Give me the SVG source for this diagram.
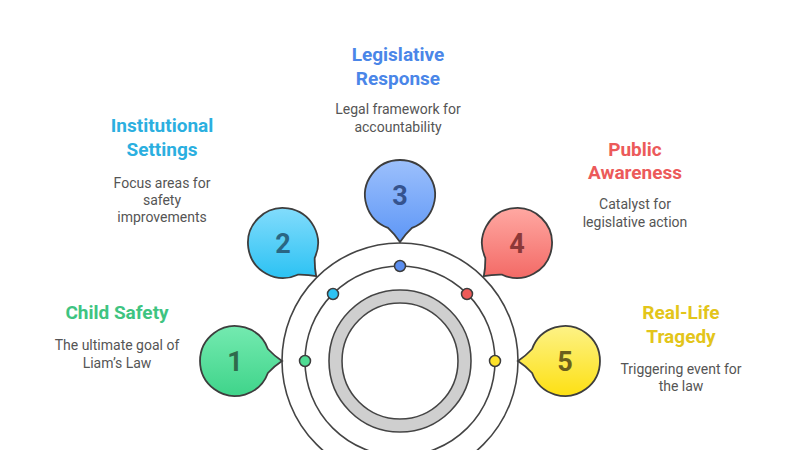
<svg xmlns="http://www.w3.org/2000/svg" width="800" height="450" viewBox="0 0 800 450">
<style>
.t{font-family:Roboto,"Liberation Sans",sans-serif;font-weight:bold;font-size:19px;text-anchor:middle}
.d{font-family:Roboto,"Liberation Sans",sans-serif;font-size:14px;fill:#555;text-anchor:middle}
.n{font-family:Roboto,"Liberation Sans",sans-serif;font-weight:bold;font-size:27px;text-anchor:middle}
.ring{fill:none;stroke:#444;stroke-width:1.6}
.b{stroke:#3d3d3d;stroke-width:1.8}
.dot{stroke:#3d3d3d;stroke-width:1.5}
</style>
<defs>
<linearGradient id="g1" x1="0" y1="0" x2="0" y2="1"><stop offset="0" stop-color="#74eab0"/><stop offset="1" stop-color="#3fd48a"/></linearGradient>
<linearGradient id="g2" x1="0" y1="0" x2="0" y2="1"><stop offset="0" stop-color="#82dcfc"/><stop offset="1" stop-color="#2cc2f3"/></linearGradient>
<linearGradient id="g3" x1="0" y1="0" x2="0" y2="1"><stop offset="0" stop-color="#9cc0fc"/><stop offset="1" stop-color="#5e97f6"/></linearGradient>
<linearGradient id="g4" x1="0" y1="0" x2="0" y2="1"><stop offset="0" stop-color="#ffa8a2"/><stop offset="1" stop-color="#f36a66"/></linearGradient>
<linearGradient id="g5" x1="0" y1="0" x2="0" y2="1"><stop offset="0" stop-color="#fdf286"/><stop offset="1" stop-color="#fde013"/></linearGradient>
</defs>
<rect width="800" height="450" fill="#fff"/>
<g id="connectors">
<circle class="ring" cx="400" cy="361" r="118" fill="#fff"/>
<circle class="ring" cx="400" cy="361" r="95"/>
<circle cx="400" cy="361" r="64.5" fill="none" stroke="#cfcfcf" stroke-width="12"/>
<circle class="ring" cx="400" cy="361" r="71"/>
<circle class="ring" cx="400" cy="361" r="58"/>
<circle class="dot" cx="305" cy="361" r="5.5" fill="#4fdc93"/>
<circle class="dot" cx="333" cy="294" r="5.5" fill="#2cc2f3"/>
<circle class="dot" cx="400" cy="266" r="5.5" fill="#5b8ef0"/>
<circle class="dot" cx="467" cy="294" r="5.5" fill="#ee5a58"/>
<circle class="dot" cx="495" cy="361" r="5.5" fill="#fde22a"/>
</g>
<g id="node1">
<path class="b" fill="url(#g1)" d="M267.9,349 A35,35 0 1 0 267.9,373 Q275,365.5 282,361 Q275,356.5 267.9,349 Z"/>
<text class="n" x="235" y="370.5" fill="#2f6a4c">1</text>
<text class="t" x="117" y="319" fill="#3ec481">Child Safety</text>
<text class="d" x="117" y="350">The ultimate goal of</text>
<text class="d" x="117" y="368">Liam’s Law</text>
</g>
<g id="node2">
<path class="b" fill="url(#g2)" d="M314.7,257.8 A35,35 0 1 0 297.8,274.7 Q308.1,274.5 316.2,276.2 Q314.5,268.1 314.7,257.8 Z"/>
<text class="n" x="283" y="252.5" fill="#2a6683">2</text>
<text class="t" x="162" y="132" fill="#2bafe0">Institutional</text>
<text class="t" x="162" y="156" fill="#2bafe0">Settings</text>
<text class="d" x="162" y="188">Focus areas for</text>
<text class="d" x="162" y="205">safety</text>
<text class="d" x="162" y="222">improvements</text>
</g>
<g id="node3">
<path class="b" fill="url(#g3)" d="M412,227.9 A35,35 0 1 0 388,227.9 Q395.5,235 400,242 Q404.5,235 412,227.9 Z"/>
<text class="n" x="400" y="204.5" fill="#35538e">3</text>
<text class="t" x="398" y="61" fill="#4a86e8">Legislative</text>
<text class="t" x="398" y="85" fill="#4a86e8">Response</text>
<text class="d" x="398" y="114">Legal framework for</text>
<text class="d" x="398" y="132">accountability</text>
</g>
<g id="node4">
<path class="b" fill="url(#g4)" d="M502.2,274.7 A35,35 0 1 0 485.3,257.8 Q485.5,268.1 483.8,276.2 Q491.9,274.5 502.2,274.7 Z"/>
<text class="n" x="517" y="252.5" fill="#8c3838">4</text>
<text class="t" x="635" y="156" fill="#ec5a5a">Public</text>
<text class="t" x="635" y="179" fill="#ec5a5a">Awareness</text>
<text class="d" x="635" y="209">Catalyst for</text>
<text class="d" x="635" y="227">legislative action</text>
</g>
<g id="node5">
<path class="b" fill="url(#g5)" d="M532.1,373 A35,35 0 1 0 532.1,349 Q525,356.5 518,361 Q525,365.5 532.1,373 Z"/>
<text class="n" x="565" y="370.5" fill="#6b5f1c">5</text>
<text class="t" x="681" y="319" fill="#e3c51a">Real-Life</text>
<text class="t" x="681" y="343" fill="#e3c51a">Tragedy</text>
<text class="d" x="681" y="374">Triggering event for</text>
<text class="d" x="681" y="391">the law</text>
</g>
</svg>
